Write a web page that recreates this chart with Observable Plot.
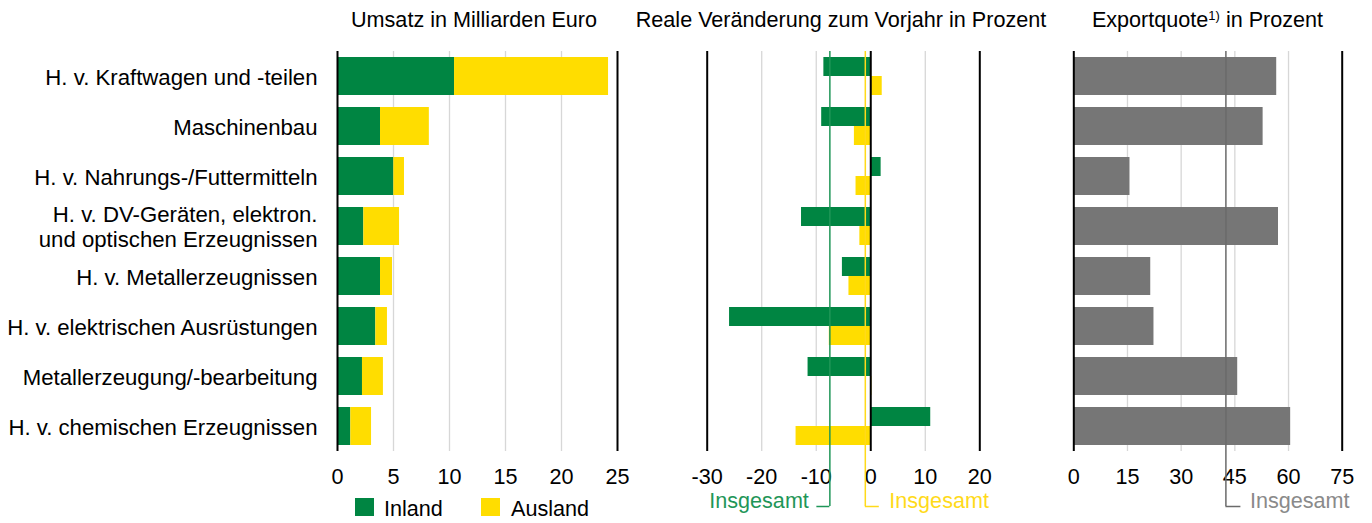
<!DOCTYPE html>
<html>
<head>
<meta charset="utf-8">
<script src="https://cdn.jsdelivr.net/npm/d3@7"></script>
<script src="https://cdn.jsdelivr.net/npm/@observablehq/plot@0.6"></script>
<style>
  body { margin: 0; background: #fff; }
  #chart { position: relative; width: 1372px; height: 523px; overflow: hidden; background: #fff;
           font-family: 'Liberation Sans', Arial, sans-serif; font-size: 21.6px; color: #000; }
  .panel { position: absolute; top: 0; }
  .title { position: absolute; top: 9px; line-height: 21.6px; white-space: nowrap; transform: translateX(-50%); }
  .title sup { font-size: 13px; vertical-align: 7px; line-height: 0; color: #000; }
  .sw { position: absolute; width: 19px; height: 18px; top: 498px; }
  .lg { position: absolute; top: 498px; line-height: 21.6px; white-space: nowrap; }
</style>
</head>
<body>
<div id="chart"></div>
<script>
// ---------- data ----------
const categories = [
  "H. v. Kraftwagen und -teilen",
  "Maschinenbau",
  "H. v. Nahrungs-/Futtermitteln",
  "H. v. DV-Geräten, elektron.\nund optischen Erzeugnissen",
  "H. v. Metallerzeugnissen",
  "H. v. elektrischen Ausrüstungen",
  "Metallerzeugung/-bearbeitung",
  "H. v. chemischen Erzeugnissen"
];
// Umsatz in Milliarden Euro
const umsatzInland  = [10.45, 3.84, 5.03, 2.35, 3.84, 3.42, 2.23, 1.19];
const umsatzAusland = [13.75, 4.36, 0.95, 3.19, 1.07, 1.04, 1.87, 1.85];
// Reale Veränderung zum Vorjahr in Prozent
const veraenderungInland  = [-8.6, -9.0, 1.9, -12.7, -5.2, -25.9, -11.5, 11.0];
const veraenderungAusland = [2.1, -3.0, -2.7, -2.0, -4.0, -7.6, 0.2, -13.7];
const insgesamtInland  = -7.5;
const insgesamtAusland = -1.0;
// Exportquote in Prozent
const exportquote = [56.7, 52.9, 15.7, 57.2, 21.5, 22.4, 45.8, 60.6];
const exportInsgesamt = 42.5;
// tick labels
const umsatzTicks = [0, 5, 10, 15, 20, 25];
const veraenderungTicks = [-30, -20, -10, 0, 10, 20];
const exportTicks = [0, 15, 30, 45, 60, 75];
const serien = ["Inland", "Ausland"];
const insgesamtLabel = "Insgesamt";

// ---------- styles ----------
const GREEN = "#008542", YELLOW = "#FFDD00", GRAY = "#767676";
const GRID = "#d7d7d7";
const GREEN_LINE = "#1f9658", YELLOW_LINE = "#FFDA1A", GRAY_LINE = "#6a6a6a", GRAY_TEXT = "#8a8a8a";
const baseStyle = { background: "transparent", fontFamily: "'Liberation Sans', Arial, sans-serif", fontSize: "21.6px", color: "#000", overflow: "visible" };
const H = 523, MT = 51, MB = 72;
const yScale = { domain: categories, paddingInner: 0.24, paddingOuter: 0.12, axis: null };
const fmt = d => String(d);

const umsatzLong = categories.flatMap((c, i) => [
  { kategorie: c, typ: serien[0], wert: umsatzInland[i] },
  { kategorie: c, typ: serien[1], wert: umsatzAusland[i] }
]);
const rows = categories.map((c, i) => ({
  kategorie: c, inland: veraenderungInland[i], ausland: veraenderungAusland[i], export: exportquote[i]
}));
const last = categories[categories.length - 1];
const ends = t => [t[0], t[t.length - 1]];
const inner = t => t.slice(1, -1);

// ---------- panel 1: Umsatz ----------
const p1 = Plot.plot({
  width: 640, height: H, marginLeft: 337, marginRight: 23, marginTop: MT, marginBottom: MB,
  style: baseStyle,
  x: { domain: ends(umsatzTicks), ticks: umsatzTicks, tickSize: 0, tickPadding: 17, tickFormat: fmt, label: null },
  y: yScale,
  color: { domain: serien, range: [GREEN, YELLOW] },
  marks: [
    Plot.ruleX(inner(umsatzTicks), { stroke: GRID, strokeWidth: 1.3 }),
    Plot.barX(umsatzLong, { y: "kategorie", x: "wert", fill: "typ" }),
    Plot.ruleX(ends(umsatzTicks), { stroke: "#000", strokeWidth: 2 }),
    Plot.text(categories, { y: d => d, text: d => d, frameAnchor: "left", textAnchor: "end", dx: -20, lineHeight: 1.13, fontSize: 22.2, fill: "#000" })
  ]
});

// ---------- panel 2: Veränderung ----------
const p2 = Plot.plot({
  width: 400, height: H, marginLeft: 66.7, marginRight: 60.7, marginTop: MT, marginBottom: MB,
  style: baseStyle,
  x: { domain: ends(veraenderungTicks), ticks: veraenderungTicks, tickSize: 0, tickPadding: 17, tickFormat: fmt, label: null },
  y: yScale,
  marks: [
    Plot.ruleX(veraenderungTicks.filter(t => t !== 0 && !ends(veraenderungTicks).includes(t)), { stroke: GRID, strokeWidth: 1.3 }),
    Plot.barX(rows, { y: "kategorie", x1: () => 0, x2: "inland", fill: GREEN, insetBottom: 19 }),
    Plot.barX(rows, { y: "kategorie", x1: () => 0, x2: "ausland", fill: YELLOW, insetTop: 19 }),
    Plot.ruleX([...ends(veraenderungTicks), 0], { stroke: "#000", strokeWidth: 2 }),
    // Insgesamt Inland
    Plot.ruleX([insgesamtInland], { stroke: GREEN_LINE, strokeWidth: 1.5, insetBottom: -55 }),
    Plot.ruleY([last], { y: d => d, x1: () => insgesamtInland, x2: () => insgesamtInland, insetLeft: -13, dy: 80, stroke: GREEN_LINE, strokeWidth: 1.5 }),
    Plot.text([insgesamtInland], { x: d => d, text: () => insgesamtLabel, frameAnchor: "bottom", dy: 56, dx: -21, textAnchor: "end", fill: GREEN_LINE }),
    // Insgesamt Ausland
    Plot.ruleX([insgesamtAusland], { stroke: YELLOW_LINE, strokeWidth: 1.5, insetBottom: -55 }),
    Plot.ruleY([last], { y: d => d, x1: () => insgesamtAusland, x2: () => insgesamtAusland, insetRight: -14, dy: 80, stroke: YELLOW_LINE, strokeWidth: 1.5 }),
    Plot.text([insgesamtAusland], { x: d => d, text: () => insgesamtLabel, frameAnchor: "bottom", dy: 56, dx: 24, textAnchor: "start", fill: YELLOW_LINE })
  ]
});

// ---------- panel 3: Exportquote ----------
const p3 = Plot.plot({
  width: 332, height: H, marginLeft: 33.3, marginRight: 30.3, marginTop: MT, marginBottom: MB,
  style: baseStyle,
  x: { domain: ends(exportTicks), ticks: exportTicks, tickSize: 0, tickPadding: 17, tickFormat: fmt, label: null },
  y: yScale,
  marks: [
    Plot.ruleX(inner(exportTicks), { stroke: GRID, strokeWidth: 1.3 }),
    Plot.barX(rows, { y: "kategorie", x1: () => 0, x2: "export", fill: GRAY }),
    Plot.ruleX(ends(exportTicks), { stroke: "#000", strokeWidth: 2 }),
    Plot.ruleX([exportInsgesamt], { stroke: GRAY_LINE, strokeWidth: 1.5, insetBottom: -55 }),
    Plot.ruleY([last], { y: d => d, x1: () => exportInsgesamt, x2: () => exportInsgesamt, insetRight: -15, dy: 80, stroke: GRAY_LINE, strokeWidth: 1.5 }),
    Plot.text([exportInsgesamt], { x: d => d, text: () => insgesamtLabel, frameAnchor: "bottom", dy: 56, dx: 24, textAnchor: "start", fill: GRAY_TEXT })
  ]
});

const chart = document.getElementById("chart");
[[p1, 0], [p2, 640], [p3, 1040]].forEach(([svg, left]) => {
  const d = document.createElement("div");
  d.className = "panel";
  d.style.left = left + "px";
  d.appendChild(svg);
  chart.appendChild(d);
});

// titles (HTML for the superscript)
const titles = [
  { html: "Umsatz in Milliarden Euro", cx: 474 },
  { html: "Reale Veränderung zum Vorjahr in Prozent", cx: 841 },
  { html: "Exportquote<sup>1)</sup> in Prozent", cx: 1207.5 }
];
titles.forEach(t => {
  const d = document.createElement("div");
  d.className = "title";
  d.style.left = t.cx + "px";
  d.innerHTML = t.html;
  chart.appendChild(d);
});

// legend
const legend = [
  { name: serien[0], color: GREEN, sx: 355, tx: 384 },
  { name: serien[1], color: YELLOW, sx: 481, tx: 511 }
];
legend.forEach(l => {
  const s = document.createElement("div");
  s.className = "sw"; s.style.left = l.sx + "px"; s.style.background = l.color;
  chart.appendChild(s);
  const t = document.createElement("div");
  t.className = "lg"; t.style.left = l.tx + "px"; t.textContent = l.name;
  chart.appendChild(t);
});
</script>
</body>
</html>
